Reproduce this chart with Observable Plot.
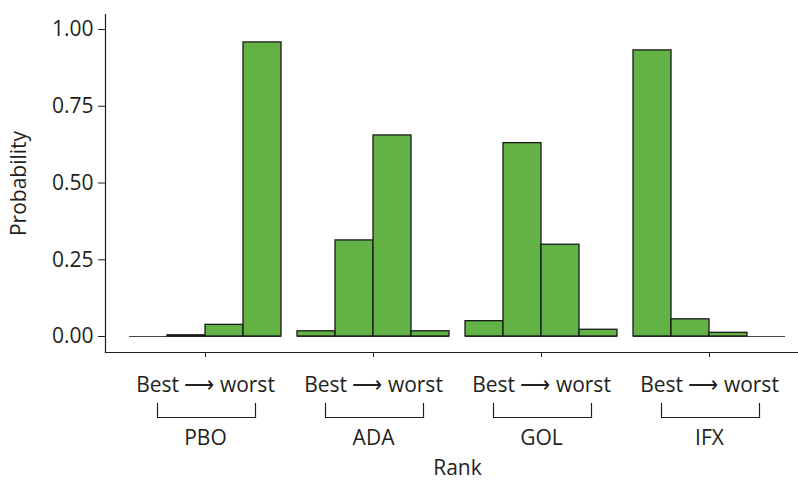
<!DOCTYPE html>
<html>
<head>
<meta charset="utf-8">
<script src="https://cdn.jsdelivr.net/npm/d3@7"></script>
<script src="https://cdn.jsdelivr.net/npm/@observablehq/plot@0.6"></script>
<style>
  html, body { margin: 0; padding: 0; background: #fff; }
</style>
</head>
<body>
<div id="chart"></div>
<script>
const drugs = ["PBO", "ADA", "GOL", "IFX"];
const ranks = [1, 2, 3, 4];
const pbo = [0.000, 0.004, 0.038, 0.958];
const ada = [0.017, 0.313, 0.655, 0.017];
const gol = [0.050, 0.630, 0.299, 0.022];
const ifx = [0.932, 0.056, 0.012, 0.000];
const yTicks = [0, 0.25, 0.5, 0.75, 1];
const rankText = "Best \u27F6 worst";
const xTitle = "Rank";
const yTitle = "Probability";

const series = {PBO: pbo, ADA: ada, GOL: gol, IFX: ifx};
const data = drugs.flatMap(d => ranks.map((r, i) => ({drug: d, rank: r, p: series[d][i]})));

const ink = "#231f20";
const green = "#62b246";

const chart = Plot.plot({
  width: 798,
  height: 480,
  marginTop: 14,
  marginBottom: 128,
  marginLeft: 105,
  marginRight: 0,
  style: {fontFamily: "'Open Sans', sans-serif", fontSize: "21px", color: ink, background: "#fff", overflow: "visible"},
  fx: {domain: drugs, paddingInner: 16 / 168, paddingOuter: 0.110, align: 0.6486},
  x: {domain: ranks, padding: 0, axis: null},
  y: {domain: [-0.0521, 1.049]},
  marks: [
    Plot.frame({facet: "super", anchor: "left", insetLeft: -24, stroke: ink, strokeWidth: 1.2}),
    Plot.frame({facet: "super", anchor: "bottom", insetLeft: -24, insetRight: -12, stroke: ink, strokeWidth: 1.2}),
    Plot.ruleY([0], {stroke: "#444", strokeWidth: 1}),
    Plot.barY(data, {fx: "drug", x: "rank", y: "p", fill: green, stroke: "#1a1a1a", strokeWidth: 1.3}),
    Plot.axisY({
      anchor: "left", dx: -24, ticks: yTicks, tickFormat: d3.format(".2f"),
      tickSize: 7, tickPadding: 5, stroke: ink, fill: ink,
      label: yTitle, labelAnchor: "center", labelArrow: "none", labelOffset: 118
    }),
    Plot.axisFx({
      anchor: "bottom", tickSize: 5, tickPadding: 20, tickFormat: () => rankText,
      stroke: ink, fill: ink, label: null
    }),
    Plot.axisFx({
      anchor: "bottom", tickSize: 0, tickPadding: 78, tickFormat: d => d,
      fill: ink, label: xTitle, labelAnchor: "center", labelArrow: "none", labelOffset: 122
    }),
    Plot.frame({anchor: "left", dy: 65, insetTop: 324, insetLeft: 28, insetRight: 26, stroke: ink, strokeWidth: 1.2}),
    Plot.frame({anchor: "right", dy: 65, insetTop: 324, insetLeft: 28, insetRight: 26, stroke: ink, strokeWidth: 1.2}),
    Plot.frame({anchor: "bottom", dy: 65, insetTop: 324, insetLeft: 28, insetRight: 26, stroke: ink, strokeWidth: 1.2})
  ]
});
document.getElementById("chart").appendChild(chart);
</script>
</body>
</html>
